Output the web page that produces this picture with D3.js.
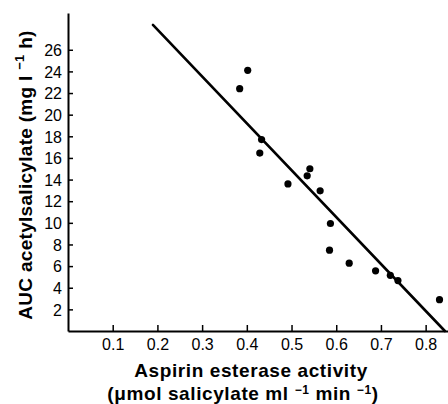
<!DOCTYPE html>
<html>
<head>
<meta charset="utf-8">
<script src="https://d3js.org/d3.v7.min.js"></script>
<style>
  body { margin: 0; background: #fff; }
  svg { display: block; }
</style>
</head>
<body>
<svg id="chart" width="448" height="404"></svg>
<script>
// data
var esterase = [0.384, 0.402, 0.433, 0.429, 0.492, 0.541, 0.535, 0.564, 0.587, 0.585, 0.629, 0.688, 0.721, 0.738, 0.831];
var auc      = [22.4, 24.1, 17.7, 16.45, 13.6, 15.0, 14.35, 12.96, 9.94, 7.47, 6.27, 5.56, 5.15, 4.66, 2.9];
var fitX = [0.19, 0.843];
var fitY = [28.3, 0];
var xTicks = [0.1, 0.2, 0.3, 0.4, 0.5, 0.6, 0.7, 0.8];
var yTicks = [2, 4, 6, 8, 10, 12, 14, 16, 18, 20, 22, 24, 26];

var svg = d3.select("#chart");

var x = d3.scaleLinear().domain([0, 0.85]).range([68, 448]);
var y = d3.scaleLinear().domain([0, 29.4]).range([331, 13]);

var font = "'Liberation Sans', Arial, Helvetica, sans-serif";

// axes
var xAxis = svg.append("g")
  .attr("transform", "translate(0,331)")
  .call(d3.axisBottom(x).tickValues(xTicks).tickFormat(d3.format(".1f")).tickSizeInner(-6).tickSizeOuter(0).tickPadding(8));
var yAxis = svg.append("g")
  .attr("transform", "translate(68,0)")
  .call(d3.axisLeft(y).tickValues(yTicks).tickSizeInner(-5).tickSizeOuter(0).tickPadding(3));

[xAxis, yAxis].forEach(function(g) {
  g.select(".domain").attr("stroke", "#000").attr("stroke-width", 2);
  g.selectAll(".tick line").attr("stroke", "#000").attr("stroke-width", 1.5);
  g.selectAll(".tick text")
    .attr("fill", "#000")
    .style("font-family", font)
    .style("font-size", "16px");
});
yAxis.selectAll(".tick text").attr("dy", "0.36em").attr("x", -6);

// fitted line
svg.append("line")
  .attr("x1", x(fitX[0])).attr("y1", y(fitY[0]))
  .attr("x2", x(fitX[1])).attr("y2", y(fitY[1]))
  .attr("stroke", "#000")
  .attr("stroke-width", 2.6)
  .attr("stroke-linecap", "round");

// points
svg.selectAll("circle.pt")
  .data(esterase)
  .enter()
  .append("circle")
  .attr("class", "pt")
  .attr("cx", function(d) { return x(d); })
  .attr("cy", function(d, i) { return y(auc[i]); })
  .attr("r", 3.6)
  .attr("fill", "#000");

// y label
var yl = svg.append("text")
  .attr("transform", "translate(32,175) rotate(-90)")
  .attr("text-anchor", "middle")
  .style("font-family", font)
  .style("font-weight", "bold")
  .style("font-size", "19px")
  .style("letter-spacing", "0.3px");
yl.append("tspan").text("AUC acetylsalicylate (mg l ");
yl.append("tspan").attr("dy", -8).style("font-size", "13px").text("\u22121");
yl.append("tspan").attr("dy", 8).text(" h)");

// x label
svg.append("text")
  .attr("x", 251).attr("y", 377)
  .attr("text-anchor", "middle")
  .style("font-family", font)
  .style("font-weight", "bold")
  .style("font-size", "19px")
  .style("letter-spacing", "0.6px")
  .text("Aspirin esterase activity");

var xl = svg.append("text")
  .attr("x", 243).attr("y", 400)
  .attr("text-anchor", "middle")
  .style("font-family", font)
  .style("font-weight", "bold")
  .style("font-size", "19px")
  .style("letter-spacing", "0.6px");
xl.append("tspan").text("(\u03bcmol salicylate ml ");
xl.append("tspan").attr("dy", -6).style("font-size", "12px").text("\u22121");
xl.append("tspan").attr("dy", 6).text("  min ");
xl.append("tspan").attr("dy", -6).style("font-size", "12px").text("\u22121");
xl.append("tspan").attr("dy", 6).text(")");
</script>
</body>
</html>
